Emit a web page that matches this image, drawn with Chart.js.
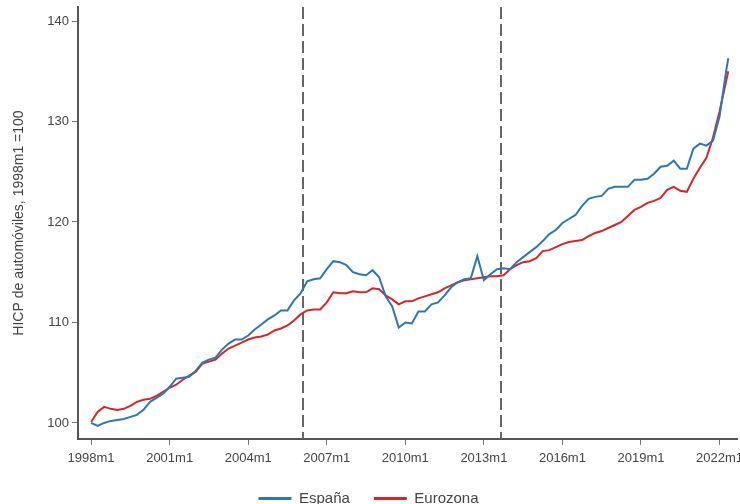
<!DOCTYPE html>
<html>
<head>
<meta charset="utf-8">
<script src="https://cdn.jsdelivr.net/npm/chart.js@4/dist/chart.umd.min.js"></script>
<style>
html,body{margin:0;padding:0;background:#fff;}
#wrap{width:740px;height:504px;position:relative;}
</style>
</head>
<body>
<div id="wrap"><canvas id="c"></canvas></div>
<script>
// month index: 0 = 1998m1
const meses = [0,3,6,9,12,15,18,21,24,27,30,33,36,39,42,45,48,51,54,57,60,63,66,69,72,75,78,81,84,87,90,93,96,99,102,105,108,111,114,117,120,123,126,129,132,135,138,141,144,147,150,153,156,159,162,165,168,171,174,177,180,183,186,189,192,195,198,201,204,207,210,213,216,219,222,225,228,231,234,237,240,243,246,249,252,255,258,261,264,267,270,273,276,279,282,285,288,291,292];
const espana = [100.0,99.7,100.0,100.2,100.3,100.4,100.6,100.8,101.3,102.1,102.5,102.9,103.6,104.4,104.5,104.6,105.2,106.0,106.3,106.5,107.3,107.9,108.3,108.3,108.7,109.3,109.8,110.3,110.7,111.2,111.2,112.2,112.9,114.1,114.3,114.4,115.3,116.1,116.0,115.7,115.0,114.8,114.7,115.2,114.5,112.6,111.6,109.5,110.0,109.9,111.1,111.1,111.8,112.0,112.7,113.5,114.0,114.3,114.4,116.6,114.2,114.8,115.3,115.4,115.3,116.0,116.5,117.0,117.5,118.1,118.8,119.2,119.9,120.3,120.7,121.6,122.3,122.5,122.6,123.3,123.5,123.5,123.5,124.2,124.2,124.3,124.8,125.5,125.6,126.1,125.3,125.3,127.3,127.8,127.6,128.1,130.5,135.0,136.3];
const eurozona = [100.1,101.1,101.6,101.4,101.3,101.4,101.7,102.1,102.3,102.4,102.7,103.1,103.5,103.8,104.3,104.7,105.1,105.9,106.1,106.3,106.9,107.4,107.7,108.0,108.3,108.5,108.6,108.8,109.2,109.4,109.7,110.2,110.8,111.2,111.3,111.3,112.0,113.0,112.9,112.9,113.1,113.0,113.0,113.4,113.3,112.7,112.3,111.8,112.1,112.1,112.4,112.6,112.8,113.0,113.4,113.7,114.0,114.2,114.3,114.4,114.5,114.6,114.6,114.7,115.3,115.7,116.0,116.1,116.4,117.1,117.2,117.5,117.8,118.0,118.1,118.2,118.6,118.9,119.1,119.4,119.7,120.0,120.6,121.2,121.5,121.9,122.1,122.4,123.2,123.5,123.1,123.0,124.3,125.4,126.4,128.4,131.0,134.0,135.0];
const tickMeses = [0,36,72,108,144,180,216,252,288];
const tickLabels = ["1998m1","2001m1","2004m1","2007m1","2010m1","2013m1","2016m1","2019m1","2022m1"];
const yTicks = [100,110,120,130,140];
const eventos = [97,188];

const toXY = (vals) => vals.map((v,i)=>({x:meses[i], y:v}));

const eventLines = {
  id:'eventLines',
  beforeDatasetsDraw(chart){
    const {ctx, chartArea, scales:{x}} = chart;
    ctx.save();
    ctx.strokeStyle = '#666';
    ctx.lineWidth = 2;
    ctx.setLineDash([12,5]);
    eventos.forEach(m=>{
      const px = Math.round(x.getPixelForValue(m));
      ctx.beginPath();
      ctx.moveTo(px, chartArea.top);
      ctx.lineTo(px, chartArea.bottom);
      ctx.stroke();
    });
    ctx.restore();
  }
};

const font = "'Liberation Sans', Arial, sans-serif";
new Chart(document.getElementById('c'), {
  type:'line',
  data:{
    datasets:[
      {label:'España', data:toXY(espana), borderColor:'#2a78b5', backgroundColor:'#2a78b5', borderWidth:2, pointRadius:0, tension:0},
      {label:'Eurozona', data:toXY(eurozona), borderColor:'#d62728', backgroundColor:'#d62728', borderWidth:2, pointRadius:0, tension:0}
    ]
  },
  options:{
    responsive:true, maintainAspectRatio:false, animation:false,
    layout:{padding:{top:7,right:3,left:0,bottom:-12}},
    plugins:{
      legend:{
        position:'bottom',
        labels:{
          font:{family:font,size:15}, color:'#444', boxWidth:33, boxHeight:3, padding:24,
          generateLabels(chart){
            return chart.data.datasets.map((d,i)=>({text:d.label, fillStyle:d.borderColor, strokeStyle:d.borderColor, lineWidth:0, datasetIndex:i, fontColor:'#444'}));
          }
        }
      },
      tooltip:{enabled:false}
    },
    scales:{
      x:{
        type:'linear', min:-6, max:296,
        afterBuildTicks(s){ s.ticks = tickMeses.map(v=>({value:v})); },
        afterFit(s){ s.height = 28; s.paddingLeft = 0; s.paddingRight = 0; },
        ticks:{font:{family:font,size:13}, color:'#444', maxRotation:0, autoSkip:false, padding:6,
          callback(v){ const i = tickMeses.indexOf(v); return i>=0 ? tickLabels[i] : ''; }},
        grid:{display:true, drawOnChartArea:false, tickLength:6, color:'#777', lineWidth:1},
        border:{display:true, color:'#555', width:2}
      },
      y:{
        type:'linear', min:98.4, max:141.4,
        afterBuildTicks(s){ s.ticks = yTicks.map(v=>({value:v})); },
        afterFit(s){ s.width = 78; s.paddingTop = 0; s.paddingBottom = 0; },
        ticks:{font:{family:font,size:13}, color:'#444', padding:3},
        grid:{display:true, drawOnChartArea:false, tickLength:6, color:'#777', lineWidth:1},
        border:{display:true, color:'#555', width:2},
        title:{display:true, text:'HICP de automóviles, 1998m1 =100', font:{family:font,size:14}, color:'#444', padding:{top:11,bottom:0}}
      }
    }
  },
  plugins:[eventLines]
});
</script>
</body>
</html>
